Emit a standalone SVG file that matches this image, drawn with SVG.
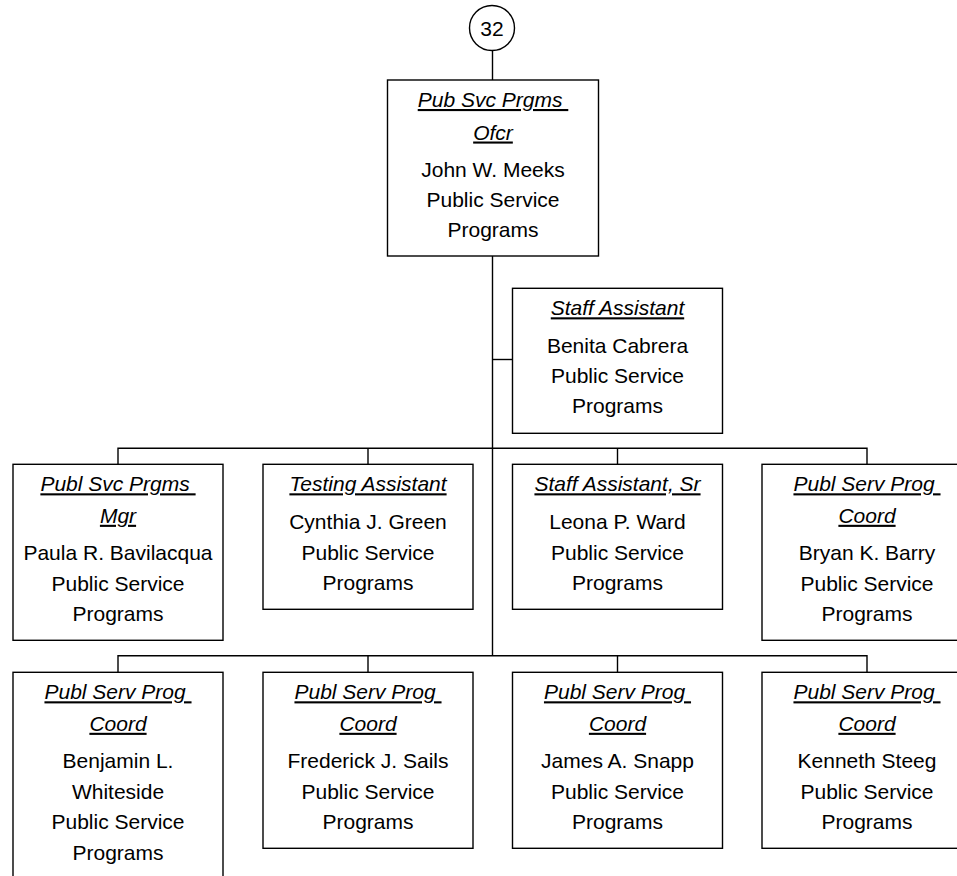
<svg xmlns="http://www.w3.org/2000/svg" width="957" height="876" viewBox="0 0 957 876">
<style>
.box{fill:#fff;stroke:#000;stroke-width:1.4}
.ln{stroke:#000;stroke-width:1.4;fill:none}
text{font-family:"Liberation Sans",Arial,sans-serif;font-size:21px;fill:#000;text-anchor:middle}
.t{font-style:italic;text-decoration:underline}
</style>
<rect x="0" y="0" width="957" height="876" fill="#fff"/>
<g id="connectors">
<line class="ln" x1="492.5" y1="50.5" x2="492.5" y2="80"/>
<line class="ln" x1="492.5" y1="256" x2="492.5" y2="656"/>
<line class="ln" x1="492.5" y1="359.5" x2="512.5" y2="359.5"/>
<polyline class="ln" points="118,464.3 118,448.3 867,448.3 867,464.3"/>
<line class="ln" x1="368" y1="448.3" x2="368" y2="464.3"/>
<line class="ln" x1="617.5" y1="448.3" x2="617.5" y2="464.3"/>
<polyline class="ln" points="118,672.3 118,655.7 867,655.7 867,672.3"/>
<line class="ln" x1="368" y1="655.7" x2="368" y2="672.3"/>
<line class="ln" x1="617.5" y1="655.7" x2="617.5" y2="672.3"/>
</g>
<g id="n32">
<circle class="box" cx="492" cy="28" r="22.5"/>
<text x="492" y="35.5">32</text>
</g>
<g id="ofcr">
<rect class="box" x="387.5" y="80" width="211" height="176"/>
<text class="t" x="493" y="107" xml:space="preserve">Pub Svc Prgms </text>
<text class="t" x="493" y="139.5">Ofcr</text>
<text x="493" y="177">John W. Meeks</text>
<text x="493" y="207">Public Service</text>
<text x="493" y="237">Programs</text>
</g>
<g id="staff">
<rect class="box" x="512.5" y="288.3" width="210" height="145"/>
<text class="t" x="617.5" y="315.3">Staff Assistant</text>
<text x="617.5" y="353.3">Benita Cabrera</text>
<text x="617.5" y="383.3">Public Service</text>
<text x="617.5" y="413.3">Programs</text>
</g>
<g id="mgr">
<rect class="box" x="13" y="464.3" width="210" height="176"/>
<text class="t" x="118" y="491.3" xml:space="preserve">Publ Svc Prgms </text>
<text class="t" x="118" y="522.8">Mgr</text>
<text x="118" y="560.3">Paula R. Bavilacqua</text>
<text x="118" y="590.8">Public Service</text>
<text x="118" y="621.3">Programs</text>
</g>
<g id="testing">
<rect class="box" x="263" y="464.3" width="210" height="145"/>
<text class="t" x="368" y="491.3">Testing Assistant</text>
<text x="368" y="529.3">Cynthia J. Green</text>
<text x="368" y="559.8">Public Service</text>
<text x="368" y="590.3">Programs</text>
</g>
<g id="staffsr">
<rect class="box" x="512.5" y="464.3" width="210" height="145"/>
<text class="t" x="617.5" y="491.3">Staff Assistant, Sr</text>
<text x="617.5" y="529.3">Leona P. Ward</text>
<text x="617.5" y="559.8">Public Service</text>
<text x="617.5" y="590.3">Programs</text>
</g>
<g id="barry">
<rect class="box" x="762" y="464.3" width="210" height="176"/>
<text class="t" x="867" y="491.3" xml:space="preserve">Publ Serv Prog </text>
<text class="t" x="867" y="522.8">Coord</text>
<text x="867" y="560.3">Bryan K. Barry</text>
<text x="867" y="590.8">Public Service</text>
<text x="867" y="621.3">Programs</text>
</g>
<g id="whiteside">
<rect class="box" x="13" y="672.3" width="210" height="210"/>
<text class="t" x="118" y="699.3" xml:space="preserve">Publ Serv Prog </text>
<text class="t" x="118" y="730.8">Coord</text>
<text x="118" y="768.3">Benjamin L.</text>
<text x="118" y="798.8">Whiteside</text>
<text x="118" y="829.3">Public Service</text>
<text x="118" y="859.8">Programs</text>
</g>
<g id="sails">
<rect class="box" x="263" y="672.3" width="210" height="176"/>
<text class="t" x="368" y="699.3" xml:space="preserve">Publ Serv Prog </text>
<text class="t" x="368" y="730.8">Coord</text>
<text x="368" y="768.3">Frederick J. Sails</text>
<text x="368" y="798.8">Public Service</text>
<text x="368" y="829.3">Programs</text>
</g>
<g id="snapp">
<rect class="box" x="512.5" y="672.3" width="210" height="176"/>
<text class="t" x="617.5" y="699.3" xml:space="preserve">Publ Serv Prog </text>
<text class="t" x="617.5" y="730.8">Coord</text>
<text x="617.5" y="768.3">James A. Snapp</text>
<text x="617.5" y="798.8">Public Service</text>
<text x="617.5" y="829.3">Programs</text>
</g>
<g id="steeg">
<rect class="box" x="762" y="672.3" width="210" height="176"/>
<text class="t" x="867" y="699.3" xml:space="preserve">Publ Serv Prog </text>
<text class="t" x="867" y="730.8">Coord</text>
<text x="867" y="768.3">Kenneth Steeg</text>
<text x="867" y="798.8">Public Service</text>
<text x="867" y="829.3">Programs</text>
</g>
</svg>
